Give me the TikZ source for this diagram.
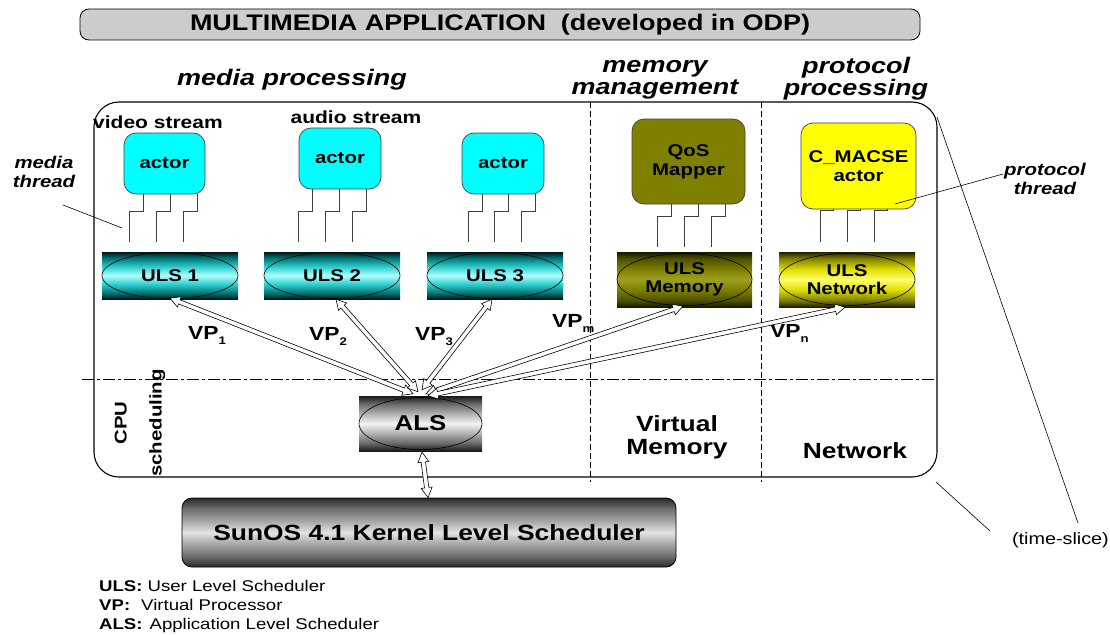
\documentclass[tikz,border=0pt]{standalone}
\usepackage{fontspec}
\setmainfont{Liberation Sans}[FakeStretch=1.2]
\usetikzlibrary{calc}
\definecolor{acyan}{RGB}{0,255,255}
\definecolor{ayellow}{RGB}{255,255,0}
\definecolor{aolive}{RGB}{128,128,0}
\definecolor{ulsA}{HTML}{001818}
\definecolor{ulsB}{HTML}{007070}
\definecolor{ulsC}{HTML}{30D0D0}
\definecolor{ulsD}{HTML}{B0FFFF}
\definecolor{memA}{HTML}{181800}
\definecolor{memB}{HTML}{505000}
\definecolor{memC}{HTML}{808000}
\definecolor{memD}{HTML}{A0A020}
\definecolor{netA}{HTML}{202000}
\definecolor{netB}{HTML}{808000}
\definecolor{netC}{HTML}{E0E000}
\definecolor{netD}{HTML}{FFFF70}
\definecolor{alsA}{HTML}{181818}
\definecolor{alsB}{HTML}{686868}
\definecolor{alsC}{HTML}{B8B8B8}
\definecolor{alsD}{HTML}{F4F4F4}
\definecolor{kerA}{HTML}{282828}
\definecolor{kerB}{HTML}{686868}
\definecolor{kerC}{HTML}{A8A8A8}
\definecolor{kerD}{HTML}{E4E4E4}
\definecolor{titlegray}{RGB}{204,204,204}
\pgfdeclareverticalshading{ulsshade}{100bp}{color(0bp)=(ulsA); color(25bp)=(ulsA); color(31bp)=(ulsB); color(41bp)=(ulsC); color(50bp)=(ulsD); color(59bp)=(ulsC); color(69bp)=(ulsB); color(75bp)=(ulsA); color(100bp)=(ulsA)}
\pgfdeclareverticalshading{memshade}{100bp}{color(0bp)=(memA); color(25bp)=(memA); color(31bp)=(memB); color(41bp)=(memC); color(50bp)=(memD); color(59bp)=(memC); color(69bp)=(memB); color(75bp)=(memA); color(100bp)=(memA)}
\pgfdeclareverticalshading{netshade}{100bp}{color(0bp)=(netA); color(25bp)=(netA); color(31bp)=(netB); color(41bp)=(netC); color(50bp)=(netD); color(59bp)=(netC); color(69bp)=(netB); color(75bp)=(netA); color(100bp)=(netA)}
\pgfdeclareverticalshading{alsshade}{100bp}{color(0bp)=(alsA); color(25bp)=(alsA); color(32bp)=(alsB); color(42bp)=(alsC); color(50bp)=(alsD); color(58bp)=(alsC); color(68bp)=(alsB); color(75bp)=(alsA); color(100bp)=(alsA)}
\pgfdeclareverticalshading{kershade}{100bp}{color(0bp)=(kerA); color(25bp)=(kerA); color(32bp)=(kerB); color(42bp)=(kerC); color(50bp)=(kerD); color(58bp)=(kerC); color(68bp)=(kerB); color(75bp)=(kerA); color(100bp)=(kerA)}
\newcommand\blockarrow[2]{%
  \coordinate (ba) at ($(#1)!10pt!(#2)$);
  \coordinate (bb) at ($(#2)!10pt!(#1)$);
  \filldraw[barrow] (#1) -- ($(ba)!5.5pt!90:(#2)$) -- ($(ba)!2.2pt!90:(#2)$)
    -- ($(bb)!2.2pt!-90:(#1)$) -- ($(bb)!5.5pt!-90:(#1)$) -- (#2)
    -- ($(bb)!5.5pt!90:(#1)$) -- ($(bb)!2.2pt!90:(#1)$)
    -- ($(ba)!2.2pt!-90:(#2)$) -- ($(ba)!5.5pt!-90:(#2)$) -- cycle;}
\tikzset{
  titlebox/.style={draw=black, line width=0.8pt, fill=titlegray, rounded corners=9pt, inner sep=0pt,
    minimum width=840pt, minimum height=31pt, font=\bfseries\fontsize{22.5}{24}\selectfont},
  head/.style={align=center, inner sep=0pt, font=\bfseries\itshape\fontsize{22.5}{22}\selectfont},
  side/.style={align=center, inner sep=0pt, font=\bfseries\itshape\fontsize{17}{19}\selectfont},
  stream/.style={inner sep=0pt, font=\bfseries\fontsize{17.5}{19}\selectfont},
  actorbox/.style={draw=black!75, line width=0.7pt, rounded corners=12pt, inner sep=0pt, align=center,
    font=\bfseries\fontsize{17}{19}\selectfont},
  ulsbox/.style={rectangle, shade, shading=#1, inner sep=0pt, align=center,
    font=\bfseries\fontsize{17}{18}\selectfont},
  ell/.style={draw=black, line width=0.6pt},
  wire/.style={draw=black!75, line width=0.8pt},
  barrow/.style={draw=black, fill=white, line width=0.6pt, line join=miter},
  vp/.style={inner sep=0pt, anchor=base west, font=\bfseries\fontsize{19}{19}\selectfont},
  res/.style={align=center, inner sep=0pt, font=\bfseries\fontsize{22}{23}\selectfont},
  leg/.style={inner sep=0pt, anchor=base west, font=\fontsize{15.5}{19}\selectfont},
  leader/.style={draw=black, line width=0.6pt}
}
\newcommand\sub[1]{\raisebox{-5pt}{\fontsize{11}{11}\selectfont #1}}
\begin{document}
\begin{tikzpicture}[x=1pt, y=-1pt]
\useasboundingbox (0,0) rectangle (1110,634);
% title
\node[titlebox] (title) at (500,24.5) {MULTIMEDIA APPLICATION\ \ (developed in ODP)};
\node[head] (hmedia) at (292,80) {media processing};
\node[head] (hmem) at (655,80) {memory\\management};
\node[head] (hprot) at (856,79) {protocol\\processing};
% main box and separators
\draw[line width=1.1pt, rounded corners=25pt] (94,102) rectangle (937,477);
\draw[line width=0.7pt, dash pattern=on 6pt off 3pt] (590,102) -- (590,482);
\draw[line width=0.7pt, dash pattern=on 6pt off 3pt] (761,102) -- (761,482);
\draw[line width=0.7pt, dash pattern=on 12pt off 3pt on 3pt off 3pt] (82,379) -- (937,379);
% stream labels
\node[stream] (vs) at (158,122) {video stream};
\node[stream] (as) at (356,117) {audio stream};
% actors
\node[actorbox, fill=acyan, minimum width=81pt, minimum height=61pt] (a1) at (164.5,163.5) {actor};
\node[actorbox, fill=acyan, minimum width=82pt, minimum height=61pt] (a2) at (340,158.5) {actor};
\node[actorbox, fill=acyan, minimum width=82pt, minimum height=61pt] (a3) at (503,163.5) {actor};
\node[actorbox, fill=aolive, minimum width=113pt, minimum height=85pt] (qos) at (688.5,161.5) {QoS\\Mapper};
\node[actorbox, fill=ayellow, minimum width=115pt, minimum height=86pt] (cm) at (858.5,166) {C\_MACSE\\actor};
% ULS boxes
\node[ulsbox=ulsshade, minimum width=136pt, minimum height=47pt] (uls1) at (170,275.5) {ULS 1};
\node[ulsbox=ulsshade, minimum width=136pt, minimum height=47pt] (uls2) at (332,275.5) {ULS 2};
\node[ulsbox=ulsshade, minimum width=136pt, minimum height=47pt] (uls3) at (495,275.5) {ULS 3};
\node[ulsbox=memshade, minimum width=135pt, minimum height=55pt] (ulsm) at (684.5,279.5) {ULS\\Memory};
\node[ulsbox=netshade, minimum width=136pt, minimum height=55pt] (ulsn) at (847,279.5) {ULS\\Network};
\draw[ell] (uls1.center) ellipse [x radius=68, y radius=23];
\draw[ell] (uls2.center) ellipse [x radius=68, y radius=23];
\draw[ell] (uls3.center) ellipse [x radius=68, y radius=23];
\draw[ell] (ulsm.center) ellipse [x radius=67.5, y radius=26];
\draw[ell] (ulsn.center) ellipse [x radius=68, y radius=26];
% wires
\foreach \dx in {-21.5,5.5,32.5} \draw[wire] ($(a1.south)+(\dx,0)$) -- ++(0,17) -- ++(-14,0) -- ++(0,31);
\foreach \dx in {-28,-1,26} \draw[wire] ($(a2.south)+(\dx,0)$) -- ++(0,22) -- ++(-14,0) -- ++(0,31);
\foreach \dx in {-21,5,32} \draw[wire] ($(a3.south)+(\dx,0)$) -- ++(0,17) -- ++(-14,0) -- ++(0,31);
\foreach \dx in {-17.5,9.5,36.5} \draw[wire] ($(qos.south)+(\dx,0)$) -- ++(0,12) -- ++(-14,0) -- ++(0,31);
\foreach \dx in {-25.5,1.5,28.5} \draw[wire] ($(cm.south)+(\dx,0)$) -- ++(0,1) -- ++(-13,0) -- ++(0,32);
% ALS and kernel
\node[ulsbox=alsshade, minimum width=123pt, minimum height=55pt, font=\bfseries\fontsize{21.5}{22}\selectfont] (als) at (420.5,423.5) {ALS};
\draw[ell] (als.center) ellipse [x radius=61.5, y radius=26];
\node[ulsbox=kershade, draw=black, line width=0.8pt, rounded corners=10pt, minimum width=494pt, minimum height=69pt,
  font=\bfseries\fontsize{22}{22}\selectfont] (kern) at (429,532.5) {SunOS 4.1 Kernel Level Scheduler};
% region labels
\node[res] (vm) at (677,437.5) {Virtual\\Memory};
\node[res] (net) at (855,451) {Network};
\node[rotate=90, align=center, inner sep=0pt, font=\bfseries\fontsize{17}{35}\selectfont] (cpu) at (140,423) {CPU\\scheduling};
% VP labels
\node[vp] (vp1) at (188,339) {VP\sub{1}};
\node[vp] (vp2) at (309,340) {VP\sub{2}};
\node[vp] (vp3) at (415,340) {VP\sub{3}};
\node[vp] (vpm) at (552,327) {VP\sub{m}};
\node[vp] (vpn) at (770,337) {VP\sub{n}};
% arrows
\coordinate (t1) at ($(uls1.south)+(0,-1)$);
\coordinate (t2) at ($(uls2.south)+(4,0)$);
\coordinate (t3) at ($(uls3.south)+(-3,0)$);
\coordinate (tm) at ($(ulsm.south)+(-1.5,-1)$);
\coordinate (tn) at ($(ulsn.south)+(-2,0)$);
\coordinate (s1) at ($(als.north)+(-7.5,-2)$);
\coordinate (s2) at ($(als.north)+(-2.5,-4)$);
\coordinate (s3) at ($(als.north)+(1.5,-6)$);
\coordinate (sm) at ($(als.north)+(5.5,-2)$);
\coordinate (sn) at ($(als.north)+(7.5,0)$);
\blockarrow{t1}{s1}
\blockarrow{t2}{s2}
\blockarrow{t3}{s3}
\blockarrow{tm}{sm}
\blockarrow{tn}{sn}
\coordinate (ka) at ($(als.south)+(1.5,1)$);
\coordinate (kb) at ($(kern.north)+(-1,0)$);
\blockarrow{ka}{kb}
% annotations
\node[side] (mt) at (44,172) {media\\thread};
\draw[leader] (63,205) -- (122,228);
\node[side] (pt) at (1045,179) {protocol\\thread};
\draw[leader] (1003,174) -- (895,204);
\node[inner sep=0pt, anchor=base east, font=\fontsize{16.5}{18}\selectfont] (ts) at (1109,544) {(time-slice)};
\draw[leader] (937,117) -- (1078,523);
\draw[leader] (936,482) -- (990,531);
% legend
\node[leg] (l1) at (99,591) {\textbf{ULS:}\hspace{5pt}User Level Scheduler};
\node[leg] (l2) at (99,610) {\textbf{VP:}\hspace{11pt}Virtual Processor};
\node[leg] (l3) at (99,629) {\textbf{ALS:}\hspace{7pt}Application Level Scheduler};
\end{tikzpicture}
\end{document}
